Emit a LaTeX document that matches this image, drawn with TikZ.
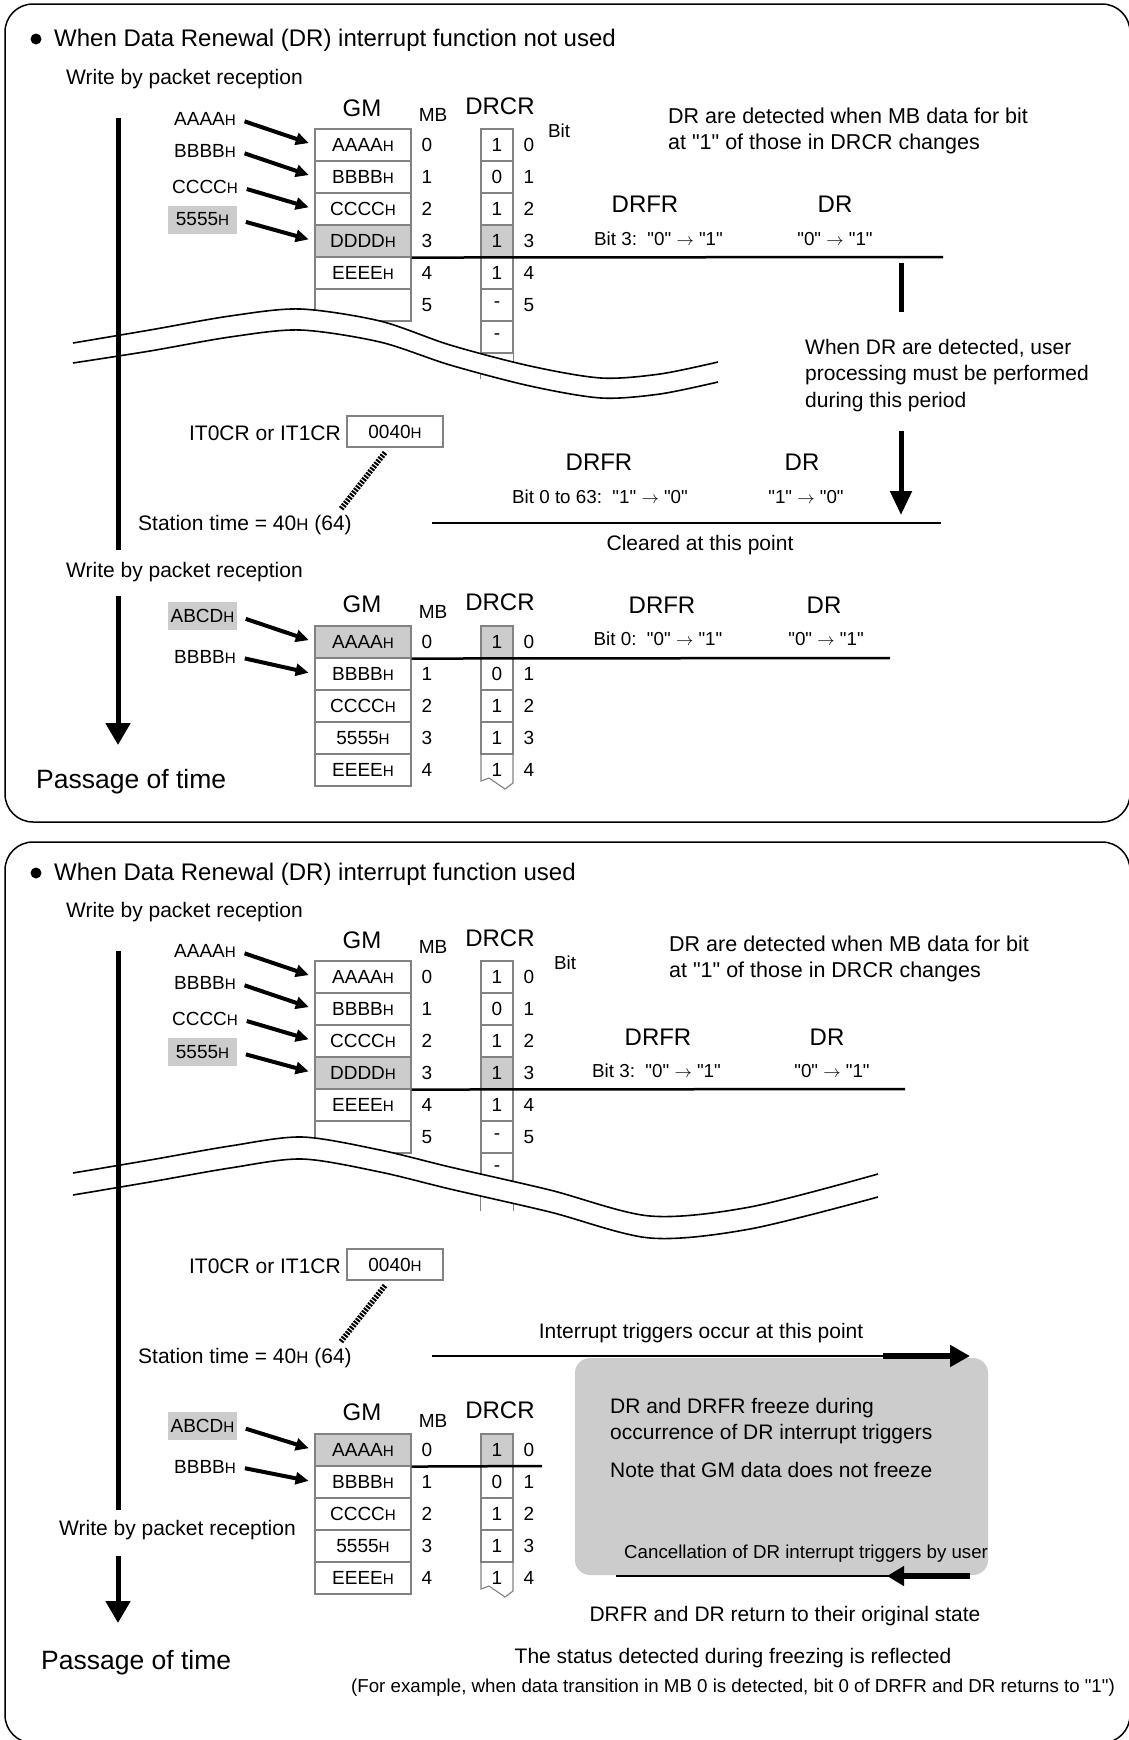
\documentclass[tikz,border=0pt]{standalone}
\usepackage{fontspec}
\setmainfont{Liberation Sans}[Ligatures=TeXOff]
\usepackage{xcolor}
\usetikzlibrary{arrows.meta, positioning}
\definecolor{cellgray}{RGB}{204,204,204}
\definecolor{linegray}{RGB}{130,130,130}
\newcommand{\hx}[1]{#1\scalebox{0.8}{H}}

\begin{document}
\begin{tikzpicture}[x=1pt, y=-1pt,
    every node/.style={inner sep=0pt},
    titletxt/.style={font=\fontsize{24}{28}\selectfont},
    bodytxt/.style={font=\fontsize{21}{26.5}\selectfont},
    headtxt/.style={font=\fontsize{24}{28}\selectfont},
    celltxt/.style={font=\fontsize{19}{22}\selectfont},
    bittxt/.style={font=\fontsize{18.8}{22}\selectfont},
    passtxt/.style={font=\fontsize{26.5}{30}\selectfont},
    gmcell/.style={draw=linegray, line width=1.1pt, minimum width=96pt, minimum height=32pt, celltxt},
    drcell/.style={draw=linegray, line width=1.1pt, minimum width=32pt, minimum height=32pt, celltxt},
    inbox/.style={fill=cellgray, minimum width=69pt, minimum height=28pt, celltxt},
    regbox/.style={draw=linegray, line width=1.1pt, minimum width=96pt, minimum height=31pt, celltxt},
    inarrow/.style={-{Triangle[length=13pt,width=12pt]}, line width=4pt, shorten <=9pt, shorten >=6pt},
    timeline/.style={line width=5pt},
    timearrow/.style={line width=5pt, -{Triangle[length=22pt,width=24pt]}},
    hline/.style={line width=2.5pt},
    boxframe/.style={draw, line width=1.5pt, rounded corners=28pt},
    breakline/.style={line width=1.6pt},
    dotlink/.style={line width=5.5pt, dash pattern=on 2pt off 1.3pt},
    bullet/.style={circle, fill, minimum size=11pt}
  ]
  \useasboundingbox (0,0) rectangle (1128,1740);
  \fill[white] (0,0) rectangle (1128,1740);

  % Frame 1: interrupt not used
  \draw[boxframe] (5,4) rectangle (1130,822);
  \node[bullet] (bul1) at (36,39) {};
  \node[titletxt, anchor=base west] (title1) at (54,46) {When Data Renewal (DR) interrupt function not used};
  \node[bodytxt, anchor=base west] (wr1) at (66,84) {Write by packet reception};

  % inputs
  \node[celltxt, anchor=base] (inA1) at (205,125) {\hx{AAAA}};
  \node[celltxt, anchor=base] (inB1) at (205,157) {\hx{BBBB}};
  \node[celltxt, anchor=base] (inC1) at (205,193) {\hx{CCCC}};
  \node[inbox] (inD1) at (202.5,219.5) {\hx{5555}};

  % GM / DRCR table
  \node[headtxt, anchor=base] (gm1) at (362,116) {GM};
  \node[celltxt, anchor=base] (mb1) at (433,121.5) {MB};
  \node[headtxt, anchor=base] (drcr1) at (500,114) {DRCR};
  \node[bittxt, anchor=base] (bit1) at (559,137) {Bit};
  \foreach \v/\f [count=\i from 0] in {AAAA/white,BBBB/white,CCCC/white,DDDD/cellgray,EEEE/white}
    \node[gmcell, fill=\f] (ga\i) at (363,{145+32*\i}) {\hx{\v}};
  \node[gmcell] (ga5) at (363,305) {};
  \foreach \v/\f [count=\i from 0] in {1/white,0/white,1/white,1/cellgray,1/white,-/white,-/white}
    \node[drcell, fill=\f] (da\i) at (497,{145+32*\i}) {\v};
  \draw[draw=linegray, line width=1.1pt] (da6.south west) -- ++(0,25) (da6.south east) -- ++(0,25);
  \foreach \i in {0,...,5} {
    \node[celltxt] (mba\i) at (427,{145+32*\i}) {\i};
    \node[celltxt] (bta\i) at (529,{145+32*\i}) {\i};
  }
  \draw[inarrow] (inA1.east) -- (ga0.west);
  \draw[inarrow] (inB1.east) -- (ga1.west);
  \draw[inarrow] (inC1.east) -- (ga2.west);
  \draw[inarrow] (inD1.east) -- (ga3.west);

  % detection
  \coordinate (h1e) at (943,257);
  \draw[hline] (ga3.south east) -- (h1e);
  \node[bodytxt, font=\fontsize{21.5}{26.5}\selectfont, anchor=west, align=left] (det1) at (668,131) {DR are detected when MB data for bit\\at "1" of those in DRCR changes};
  \node[headtxt, anchor=base] (drfr1) at (645,212) {DRFR};
  \node[headtxt, anchor=base] (dr1) at (835,212) {DR};
  \node[bittxt, anchor=base west] (bs1) at (594,245) {Bit 3:\ \ "0" $\rightarrow$ "1"};
  \node[bittxt, anchor=base] (tr1) at (835,245) {"0" $\rightarrow$ "1"};
  \coordinate (barT) at (901,263);
  \coordinate (barB) at (901,312);
  \draw[line width=5pt] (barT) -- (barB);
  \node[bodytxt, anchor=west, align=left] (usr1) at (805,375.5) {When DR are detected, user\\processing must be performed\\during this period};
  \coordinate (dnT) at (901,431);
  \coordinate (dnB) at (901,515);
  \draw[line width=5pt, -{Triangle[length=24pt,width=21pt]}] (dnT) -- (dnB);

  % break
  \fill[white] plot[smooth] coordinates {(73,343) (150,330) (230,316) (300,309) (380,321) (450,345) (530,366) (601,378) (660,374) (718,362)}
    -- plot[smooth] coordinates {(718,382) (660,394) (601,398) (530,386) (450,365) (380,342) (300,330) (230,337) (150,351) (73,363)} -- cycle;
  \draw[breakline] plot[smooth] coordinates {(73,343) (150,330) (230,316) (300,309) (380,321) (450,345) (530,366) (601,378) (660,374) (718,362)};
  \draw[breakline] plot[smooth] coordinates {(73,363) (150,351) (230,337) (300,330) (380,342) (450,365) (530,386) (601,398) (660,394) (718,382)};
  \coordinate (t1a) at (118,118);
  \coordinate (t1b) at (118,550);
  \draw[timeline] (t1a) -- (t1b);

  % station time
  \node[bodytxt, anchor=base east] (it1) at (341,440.5) {IT0CR or IT1CR};
  \node[regbox] (reg1) at (395,431.5) {\hx{0040}};
  \node[bodytxt, anchor=base west] (st1) at (138,530.5) {Station time = \hx{40} (64)};
  \draw[dotlink] ([xshift=-10pt,yshift=-5pt]reg1.south) -- ([xshift=-11pt,yshift=6pt]st1.north east);
  \node[headtxt, anchor=base] (drfr2) at (599,470) {DRFR};
  \node[headtxt, anchor=base] (dr2) at (802,470) {DR};
  \node[bittxt, anchor=base] (bs2) at (600,503) {Bit 0 to 63:\ \ "1" $\rightarrow$ "0"};
  \node[bittxt, anchor=base] (tr2) at (806,503) {"1" $\rightarrow$ "0"};
  \coordinate (clrL) at (432,523);
  \coordinate (clrR) at (941,523);
  \draw[hline] (clrL) -- (clrR);
  \node[bodytxt, anchor=base] (clr) at (700,550) {Cleared at this point};

  % second reception
  \node[bodytxt, anchor=base west] (wr2) at (66,577) {Write by packet reception};
  \coordinate (t2a) at (118,596);
  \coordinate (t2b) at (118,745);
  \draw[timearrow] (t2a) -- (t2b);
  \node[passtxt, anchor=base west] (pass1) at (36,788) {Passage of time};
  \node[inbox] (inE1) at (202.5,616) {\hx{ABCD}};
  \node[celltxt, anchor=base] (inF1) at (205,663) {\hx{BBBB}};
  \node[headtxt, anchor=base] (gm2) at (362,612) {GM};
  \node[celltxt, anchor=base] (mb2) at (433,618) {MB};
  \node[headtxt, anchor=base] (drcr2) at (500,610) {DRCR};
  \foreach \v/\f [count=\i from 0] in {AAAA/cellgray,BBBB/white,CCCC/white,5555/white,EEEE/white}
    \node[gmcell, fill=\f] (gb\i) at (363,{642+32*\i}) {\hx{\v}};
  \foreach \v/\f [count=\i from 0] in {1/cellgray,0/white,1/white,1/white}
    \node[drcell, fill=\f] (db\i) at (497,{642+32*\i}) {\v};
  \draw[draw=linegray, line width=1.1pt] (481,754) -- (481,781) -- (489,778) -- (505,789) -- (513,783) -- (513,754);
  \node[celltxt] (db4) at (497,770) {1};
  \foreach \i in {0,...,4} {
    \node[celltxt] (mbb\i) at (427,{642+32*\i}) {\i};
    \node[celltxt] (btb\i) at (529,{642+32*\i}) {\i};
  }
  \draw[inarrow] (inE1.east) -- (gb0.west);
  \draw[inarrow] (inF1.east) -- (gb1.west);
  \coordinate (h2e) at (890,658);
  \draw[hline] (gb0.south east) -- (h2e);
  \node[headtxt, anchor=base] (drfr3) at (662,613) {DRFR};
  \node[headtxt, anchor=base] (dr3) at (824,613) {DR};
  \node[bittxt, anchor=base] (bs3) at (658,645) {Bit 0:\ \ "0" $\rightarrow$ "1"};
  \node[bittxt, anchor=base] (tr3) at (826,645) {"0" $\rightarrow$ "1"};

  % Frame 2: interrupt used
  \draw[boxframe] (5,842) rectangle (1130,1743);
  \node[bullet] (bul2) at (36,873) {};
  \node[titletxt, anchor=base west] (title2) at (54,880) {When Data Renewal (DR) interrupt function used};
  \node[bodytxt, anchor=base west] (wr3) at (66,917) {Write by packet reception};

  % inputs
  \node[celltxt, anchor=base] (inA2) at (205,957) {\hx{AAAA}};
  \node[celltxt, anchor=base] (inB2) at (205,989) {\hx{BBBB}};
  \node[celltxt, anchor=base] (inC2) at (205,1025) {\hx{CCCC}};
  \node[inbox] (inD2) at (202.5,1052) {\hx{5555}};

  % GM / DRCR table
  \node[headtxt, anchor=base] (gm3) at (362,948) {GM};
  \node[celltxt, anchor=base] (mb3) at (433,953.5) {MB};
  \node[headtxt, anchor=base] (drcr3) at (500,946) {DRCR};
  \node[bittxt, anchor=base] (bit3) at (565,969) {Bit};
  \foreach \v/\f [count=\i from 0] in {AAAA/white,BBBB/white,CCCC/white,DDDD/cellgray,EEEE/white}
    \node[gmcell, fill=\f] (gc\i) at (363,{977+32*\i}) {\hx{\v}};
  \node[gmcell] (gc5) at (363,1137) {};
  \foreach \v/\f [count=\i from 0] in {1/white,0/white,1/white,1/cellgray,1/white,-/white,-/white}
    \node[drcell, fill=\f] (dc\i) at (497,{977+32*\i}) {\v};
  \draw[draw=linegray, line width=1.1pt] (dc6.south west) -- ++(0,25) (dc6.south east) -- ++(0,25);
  \foreach \i in {0,...,5} {
    \node[celltxt] (mbc\i) at (427,{977+32*\i}) {\i};
    \node[celltxt] (btc\i) at (529,{977+32*\i}) {\i};
  }
  \draw[inarrow] (inA2.east) -- (gc0.west);
  \draw[inarrow] (inB2.east) -- (gc1.west);
  \draw[inarrow] (inC2.east) -- (gc2.west);
  \draw[inarrow] (inD2.east) -- (gc3.west);

  % detection
  \coordinate (h3e) at (905,1089);
  \draw[hline] (gc3.south east) -- (h3e);
  \node[bodytxt, font=\fontsize{21.5}{26.5}\selectfont, anchor=west, align=left] (det2) at (669,959) {DR are detected when MB data for bit\\at "1" of those in DRCR changes};
  \node[headtxt, anchor=base] (drfr4) at (658,1045) {DRFR};
  \node[headtxt, anchor=base] (dr4) at (827,1045) {DR};
  \node[bittxt, anchor=base west] (bs4) at (592,1077) {Bit 3:\ \ "0" $\rightarrow$ "1"};
  \node[bittxt, anchor=base] (tr4) at (832,1077) {"0" $\rightarrow$ "1"};

  % break
  \fill[white] plot[smooth] coordinates {(73,1173) (150,1160) (230,1146) (302,1137) (380,1150) (450,1167) (550,1190) (650,1216) (750,1207) (878,1174)}
    -- plot[smooth] coordinates {(878,1197) (750,1229) (650,1238) (550,1212) (450,1189) (380,1172) (302,1159) (230,1168) (150,1182) (73,1195)} -- cycle;
  \draw[breakline] plot[smooth] coordinates {(73,1173) (150,1160) (230,1146) (302,1137) (380,1150) (450,1167) (550,1190) (650,1216) (750,1207) (878,1174)};
  \draw[breakline] plot[smooth] coordinates {(73,1195) (150,1182) (230,1168) (302,1159) (380,1172) (450,1189) (550,1212) (650,1238) (750,1229) (878,1197)};
  \coordinate (t3a) at (118,951);
  \coordinate (t3b) at (118,1510);
  \draw[timeline] (t3a) -- (t3b);

  % station time and freeze
  \node[bodytxt, anchor=base east] (it2) at (341,1273.5) {IT0CR or IT1CR};
  \node[regbox] (reg2) at (395,1264.5) {\hx{0040}};
  \node[bodytxt, anchor=base west] (st2) at (138,1363) {Station time = \hx{40} (64)};
  \draw[dotlink] ([xshift=-10pt,yshift=-5pt]reg2.south) -- ([xshift=-11pt,yshift=6pt]st2.north east);
  \node[fill=cellgray, rounded corners=15pt, minimum width=413pt, minimum height=217pt] (frz) at (781.5,1466.5) {};
  \node[bodytxt, anchor=base] (trg) at (701,1338) {Interrupt triggers occur at this point};
  \coordinate (trgL) at (432,1356);
  \coordinate (trgM) at (883,1356);
  \coordinate (trgR) at (970,1356);
  \draw[line width=2.5pt] (trgL) -- (trgM);
  \draw[line width=5.5pt, -{Triangle[length=20pt,width=21pt]}] (trgM) -- (trgR);
  \node[bodytxt, anchor=west, align=left] (fz1) at (610,1421) {DR and DRFR freeze during\\occurrence of DR interrupt triggers};
  \node[bodytxt, anchor=base west] (fz2) at (610,1477) {Note that GM data does not freeze};
  \node[font=\fontsize{18.7}{23}\selectfont, anchor=base west] (cnl) at (624,1558) {Cancellation of DR interrupt triggers by user};
  \coordinate (retL) at (616,1576);
  \coordinate (retR) at (970,1576);
  \coordinate (retM) at (887,1576);
  \draw[line width=2.5pt] (retL) -- (retR);
  \draw[line width=6pt, -{Triangle[length=17pt,width=19pt]}] (retR) -- (retM);
  \node[bodytxt, anchor=base] (ret) at (785,1621) {DRFR and DR return to their original state};
  \node[bodytxt, anchor=base] (sts) at (733,1663) {The status detected during freezing is reflected};
  \node[font=\fontsize{18.7}{22}\selectfont, anchor=base] (exm) at (733,1692) {(For example, when data transition in MB 0 is detected, bit 0 of DRFR and DR returns to "1")};

  % second reception
  \node[bodytxt, anchor=base west] (wr4) at (59,1535) {Write by packet reception};
  \coordinate (t4a) at (118,1556);
  \coordinate (t4b) at (118,1623);
  \draw[timearrow] (t4a) -- (t4b);
  \node[passtxt, anchor=base west] (pass2) at (41,1669) {Passage of time};
  \node[inbox] (inE2) at (202.5,1426) {\hx{ABCD}};
  \node[celltxt, anchor=base] (inF2) at (205,1473) {\hx{BBBB}};
  \node[headtxt, anchor=base] (gm4) at (362,1420) {GM};
  \node[celltxt, anchor=base] (mb4) at (433,1427) {MB};
  \node[headtxt, anchor=base] (drcr4) at (500,1418) {DRCR};
  \foreach \v/\f [count=\i from 0] in {AAAA/cellgray,BBBB/white,CCCC/white,5555/white,EEEE/white}
    \node[gmcell, fill=\f] (gd\i) at (363,{1450+32*\i}) {\hx{\v}};
  \foreach \v/\f [count=\i from 0] in {1/cellgray,0/white,1/white,1/white}
    \node[drcell, fill=\f] (dd\i) at (497,{1450+32*\i}) {\v};
  \draw[draw=linegray, line width=1.1pt] (481,1562) -- (481,1589) -- (489,1586) -- (505,1597) -- (513,1591) -- (513,1562);
  \node[celltxt] (dd4) at (497,1578) {1};
  \foreach \i in {0,...,4} {
    \node[celltxt] (mbd\i) at (427,{1450+32*\i}) {\i};
    \node[celltxt] (btd\i) at (529,{1450+32*\i}) {\i};
  }
  \draw[inarrow] (inE2.east) -- (gd0.west);
  \draw[inarrow] (inF2.east) -- (gd1.west);
  \coordinate (h4e) at (542,1466);
  \draw[hline] (gd0.south east) -- (h4e);
\end{tikzpicture}
\end{document}
